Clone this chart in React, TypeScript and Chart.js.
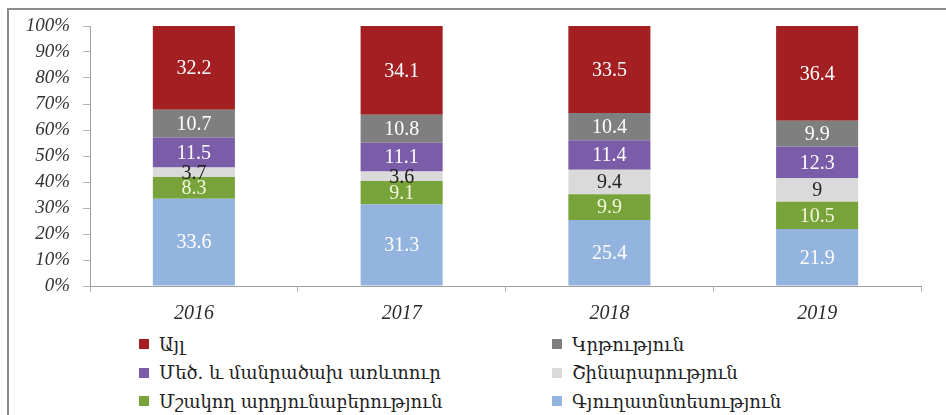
import React, { useEffect, useRef } from "react";
import { Chart, registerables } from "chart.js";

Chart.register(...registerables);

const years = ["2016", "2017", "2018", "2019"];
const agriculture = [33.6, 31.3, 25.4, 21.9];
const manufacturing = [8.3, 9.1, 9.9, 10.5];
const construction = [3.7, 3.6, 9.4, 9];
const trade = [11.5, 11.1, 11.4, 12.3];
const education = [10.7, 10.8, 10.4, 9.9];
const other = [32.2, 34.1, 33.5, 36.4];

const seriesNames = {
  other: "Այլ",
  education: "Կրթություն",
  trade: "Մեծ. և մանրածախ առևտուր",
  construction: "Շինարարություն",
  manufacturing: "Մշակող արդյունաբերություն",
  agriculture: "Գյուղատնտեսություն",
};

const colors = {
  agriculture: "#92b4de",
  manufacturing: "#78a23a",
  construction: "#dadada",
  trade: "#7b5ca8",
  education: "#7f7f7f",
  other: "#a31f22",
};

const labelColors = {
  agriculture: "#ffffff",
  manufacturing: "#f3f7dc",
  construction: "#222222",
  trade: "#ffffff",
  education: "#ffffff",
  other: "#ffffff",
};

const legendOrder = [
  "other",
  "education",
  "trade",
  "construction",
  "manufacturing",
  "agriculture",
];

const valueLabels = {
  id: "valueLabels",
  afterDatasetsDraw(chart: any) {
    const ctx = chart.ctx;
    ctx.save();
    ctx.font = "20px 'Liberation Serif', 'DejaVu Serif', serif";
    ctx.textAlign = "center";
    ctx.textBaseline = "middle";
    chart.data.datasets.forEach((ds: any, i: number) => {
      const meta = chart.getDatasetMeta(i);
      meta.data.forEach((bar: any, j: number) => {
        const v = ds.data[j];
        const cy = (bar.y + bar.base) / 2;
        ctx.fillStyle = ds.labelColor;
        ctx.fillText(String(v), bar.x, cy + 1);
      });
    });
    ctx.restore();
  },
};

export default function App() {
  const ref = useRef<HTMLCanvasElement>(null);

  useEffect(() => {
    const mk = (key: string, data: number[]) => ({
      label: (seriesNames as any)[key],
      data,
      backgroundColor: (colors as any)[key],
      labelColor: (labelColors as any)[key],
      borderWidth: 0,
      categoryPercentage: 1,
      barPercentage: 0.395,
    });
    const chart = new Chart(ref.current as HTMLCanvasElement, {
      type: "bar",
      data: {
        labels: years,
        datasets: [
          mk("agriculture", agriculture),
          mk("manufacturing", manufacturing),
          mk("construction", construction),
          mk("trade", trade),
          mk("education", education),
          mk("other", other),
        ] as any,
      },
      options: {
        animation: false,
        responsive: false,
        maintainAspectRatio: false,
        layout: { padding: { left: 0, right: 25, top: 26, bottom: 0 } },
        plugins: {
          legend: { display: false },
          tooltip: { enabled: false },
        },
        scales: {
          x: {
            stacked: true,
            grid: {
              drawOnChartArea: false,
              drawTicks: true,
              tickLength: 6,
              color: "#b5b5b5",
            },
            border: { color: "#a0a0a0", width: 1 },
            ticks: {
              color: "#2b2b2b",
              padding: 10,
              font: {
                family: "'Liberation Serif', 'DejaVu Serif', serif",
                size: 20,
                style: "italic",
              },
            },
            afterFit: (s: any) => {
              s.height = 44;
            },
          },
          y: {
            stacked: true,
            min: 0,
            max: 100,
            grid: {
              drawOnChartArea: false,
              drawTicks: true,
              tickLength: 7,
              color: "#b5b5b5",
            },
            border: { color: "#a0a0a0", width: 1 },
            ticks: {
              stepSize: 10,
              padding: 13,
              color: "#333333",
              callback: (v: any) => v + "%",
              font: {
                family: "'Liberation Serif', 'DejaVu Serif', serif",
                size: 19,
                style: "italic",
              },
            },
            afterFit: (s: any) => {
              s.width = 90;
            },
          },
        },
      },
      plugins: [valueLabels],
    });
    return () => chart.destroy();
  }, []);

  const legendFont = "'DejaVu Serif', 'Noto Sans', serif";

  return (
    <div
      style={{
        position: "absolute",
        left: 0,
        top: 0,
        width: 946,
        height: 415,
        background: "#ffffff",
        overflow: "hidden",
      }}
    >
      <div
        style={{
          position: "absolute",
          left: 7,
          top: 8,
          right: 0,
          bottom: 0,
          borderLeft: "2px solid #8c8c8c",
          borderTop: "2px solid #8c8c8c",
        }}
      />
      <canvas
        ref={ref}
        width={946}
        height={330}
        style={{ position: "absolute", left: 0, top: 0, width: 946, height: 330 }}
      />
      {legendOrder.map((key, i) => {
        const col = i % 2;
        const row = Math.floor(i / 2);
        return (
          <div
            key={key}
            style={{
              position: "absolute",
              left: col === 0 ? 139 : 552,
              top: 330 + row * 28.5,
              height: 28,
              display: "flex",
              alignItems: "center",
              whiteSpace: "nowrap",
            }}
          >
            <span
              style={{
                display: "inline-block",
                width: 10,
                height: 10,
                background: (colors as any)[key],
                marginRight: 10,
              }}
            />
            <span
              style={{
                fontFamily: legendFont,
                fontSize: 18,
                color: "#222222",
              }}
            >
              {(seriesNames as any)[key]}
            </span>
          </div>
        );
      })}
    </div>
  );
}
